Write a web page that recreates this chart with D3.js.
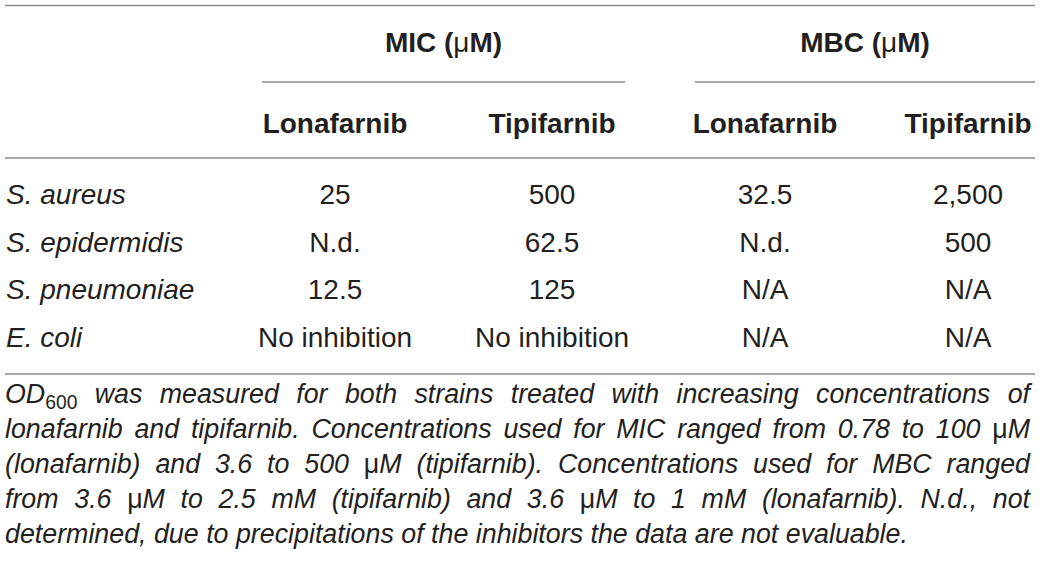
<!DOCTYPE html>
<html>
<head>
<meta charset="utf-8">
<script src="https://cdn.jsdelivr.net/npm/d3@7/dist/d3.min.js"></script>
<style>
  body { margin: 0; background: #fff; }
  svg text { font-family: "Liberation Sans", Arial, sans-serif; fill: #231f20; }
</style>
</head>
<body>
<svg id="tbl" width="1043" height="569"></svg>
<script>
// table content
const groups = ['MIC', 'MBC'];
const drugs = ['Lonafarnib', 'Tipifarnib', 'Lonafarnib', 'Tipifarnib'];
const strains = [['S.', 'aureus'], ['S.', 'epidermidis'], ['S.', 'pneumoniae'], ['E.', 'coli']];
const micLonafarnib = ['25', 'N.d.', '12.5', 'No inhibition'];
const micTipifarnib = ['500', '62.5', '125', 'No inhibition'];
const mbcLonafarnib = ['32.5', 'N.d.', 'N/A', 'N/A'];
const mbcTipifarnib = ['2,500', '500', 'N/A', 'N/A'];
const captionLines = [
    'OD_600 was measured for both strains treated with increasing concentrations of',
    'lonafarnib and tipifarnib. Concentrations used for MIC ranged from 0.78 to 100 μM',
    '(lonafarnib) and 3.6 to 500 μM (tipifarnib). Concentrations used for MBC ranged',
    'from 3.6 μM to 2.5 mM (tipifarnib) and 3.6 μM to 1 mM (lonafarnib). N.d., not',
    'determined, due to precipitations of the inhibitors the data are not evaluable.'
];

const svg = d3.select('#tbl');
const W = 1043;
const left = 5, right = 1035;
const ruleColor = '#8a8a8a';

const columns = [micLonafarnib, micTipifarnib, mbcLonafarnib, mbcTipifarnib];
const x = d3.scaleOrdinal().domain(d3.range(4)).range([335, 552, 765, 968]);
const y = d3.scalePoint().domain(d3.range(strains.length)).range([204, 347]);
const groupSpan = d3.scaleOrdinal().domain(groups).range([[262, 625], [695, 1035]]);

function rule (y0, x1, x2) {
    svg.append('line')
        .attr('x1', x1).attr('x2', x2)
        .attr('y1', y0).attr('y2', y0)
        .attr('stroke', ruleColor)
        .attr('stroke-width', 1.6);
}

rule(5.5, left, right);
rule(158, left, right);
rule(374, left, right);

// group headers with their underline
groups.forEach((g) => {
    const [a, b] = groupSpan(g);
    const t = svg.append('text')
        .attr('x', (a + b) / 2)
        .attr('y', 52)
        .attr('text-anchor', 'middle')
        .attr('font-size', 28)
        .attr('font-weight', 'bold');
    t.append('tspan').text(g + ' (');
    t.append('tspan').attr('font-weight', 'normal').text('μ');
    t.append('tspan').text('M)');
    rule(82, a, b);
});

svg.selectAll('.drug')
    .data(drugs)
    .join('text')
    .attr('class', 'drug')
    .attr('x', (d, i) => x(i))
    .attr('y', 133)
    .attr('text-anchor', 'middle')
    .attr('font-size', 28)
    .attr('font-weight', 'bold')
    .text(d => d);

// strain names, italic
svg.selectAll('.strain')
    .data(strains)
    .join('text')
    .attr('class', 'strain')
    .attr('x', 6)
    .attr('y', (d, i) => y(i))
    .attr('font-size', 28)
    .attr('font-style', 'italic')
    .text(d => d.join(' '));

columns.forEach((col, ci) => {
    svg.selectAll('.c' + ci)
        .data(col)
        .join('text')
        .attr('class', 'c' + ci)
        .attr('x', x(ci))
        .attr('y', (d, i) => y(i))
        .attr('text-anchor', 'middle')
        .attr('font-size', 28)
        .text(d => d);
});

// caption, justified by hand
const capY = d3.scalePoint().domain(d3.range(captionLines.length)).range([403, 543]);
const capSize = 26.8;

captionLines.forEach((line, li) => {
    const words = line.split(' ');
    const nodes = words.map((w) => {
        const t = svg.append('text')
            .attr('y', capY(li))
            .attr('font-size', capSize)
            .attr('font-style', 'italic');
        if (w.includes('_')) {
            const [base, sub] = w.split('_');
            t.append('tspan').text(base);
            t.append('tspan')
                .attr('font-style', 'normal')
                .attr('font-size', capSize * 0.72)
                .attr('dy', 6)
                .text(sub);
        } else if (w.includes('μ')) {
            w.split(/(μ)/).filter(s => s).forEach((s) => {
                const ts = t.append('tspan').text(s);
                if (s === 'μ') ts.attr('font-style', 'normal');
            });
        } else {
            t.text(w);
        }
        return t;
    });
    const widths = nodes.map(n => n.node().getComputedTextLength());
    const total = d3.sum(widths);
    const last = li === captionLines.length - 1;
    const space = capSize * 0.278;
    const gap = last ? space : (right - 5 - left - total) / (words.length - 1);
    let cx = left;
    nodes.forEach((n, i) => {
        n.attr('x', cx);
        cx += widths[i] + gap;
    });
});
</script>
</body>
</html>
